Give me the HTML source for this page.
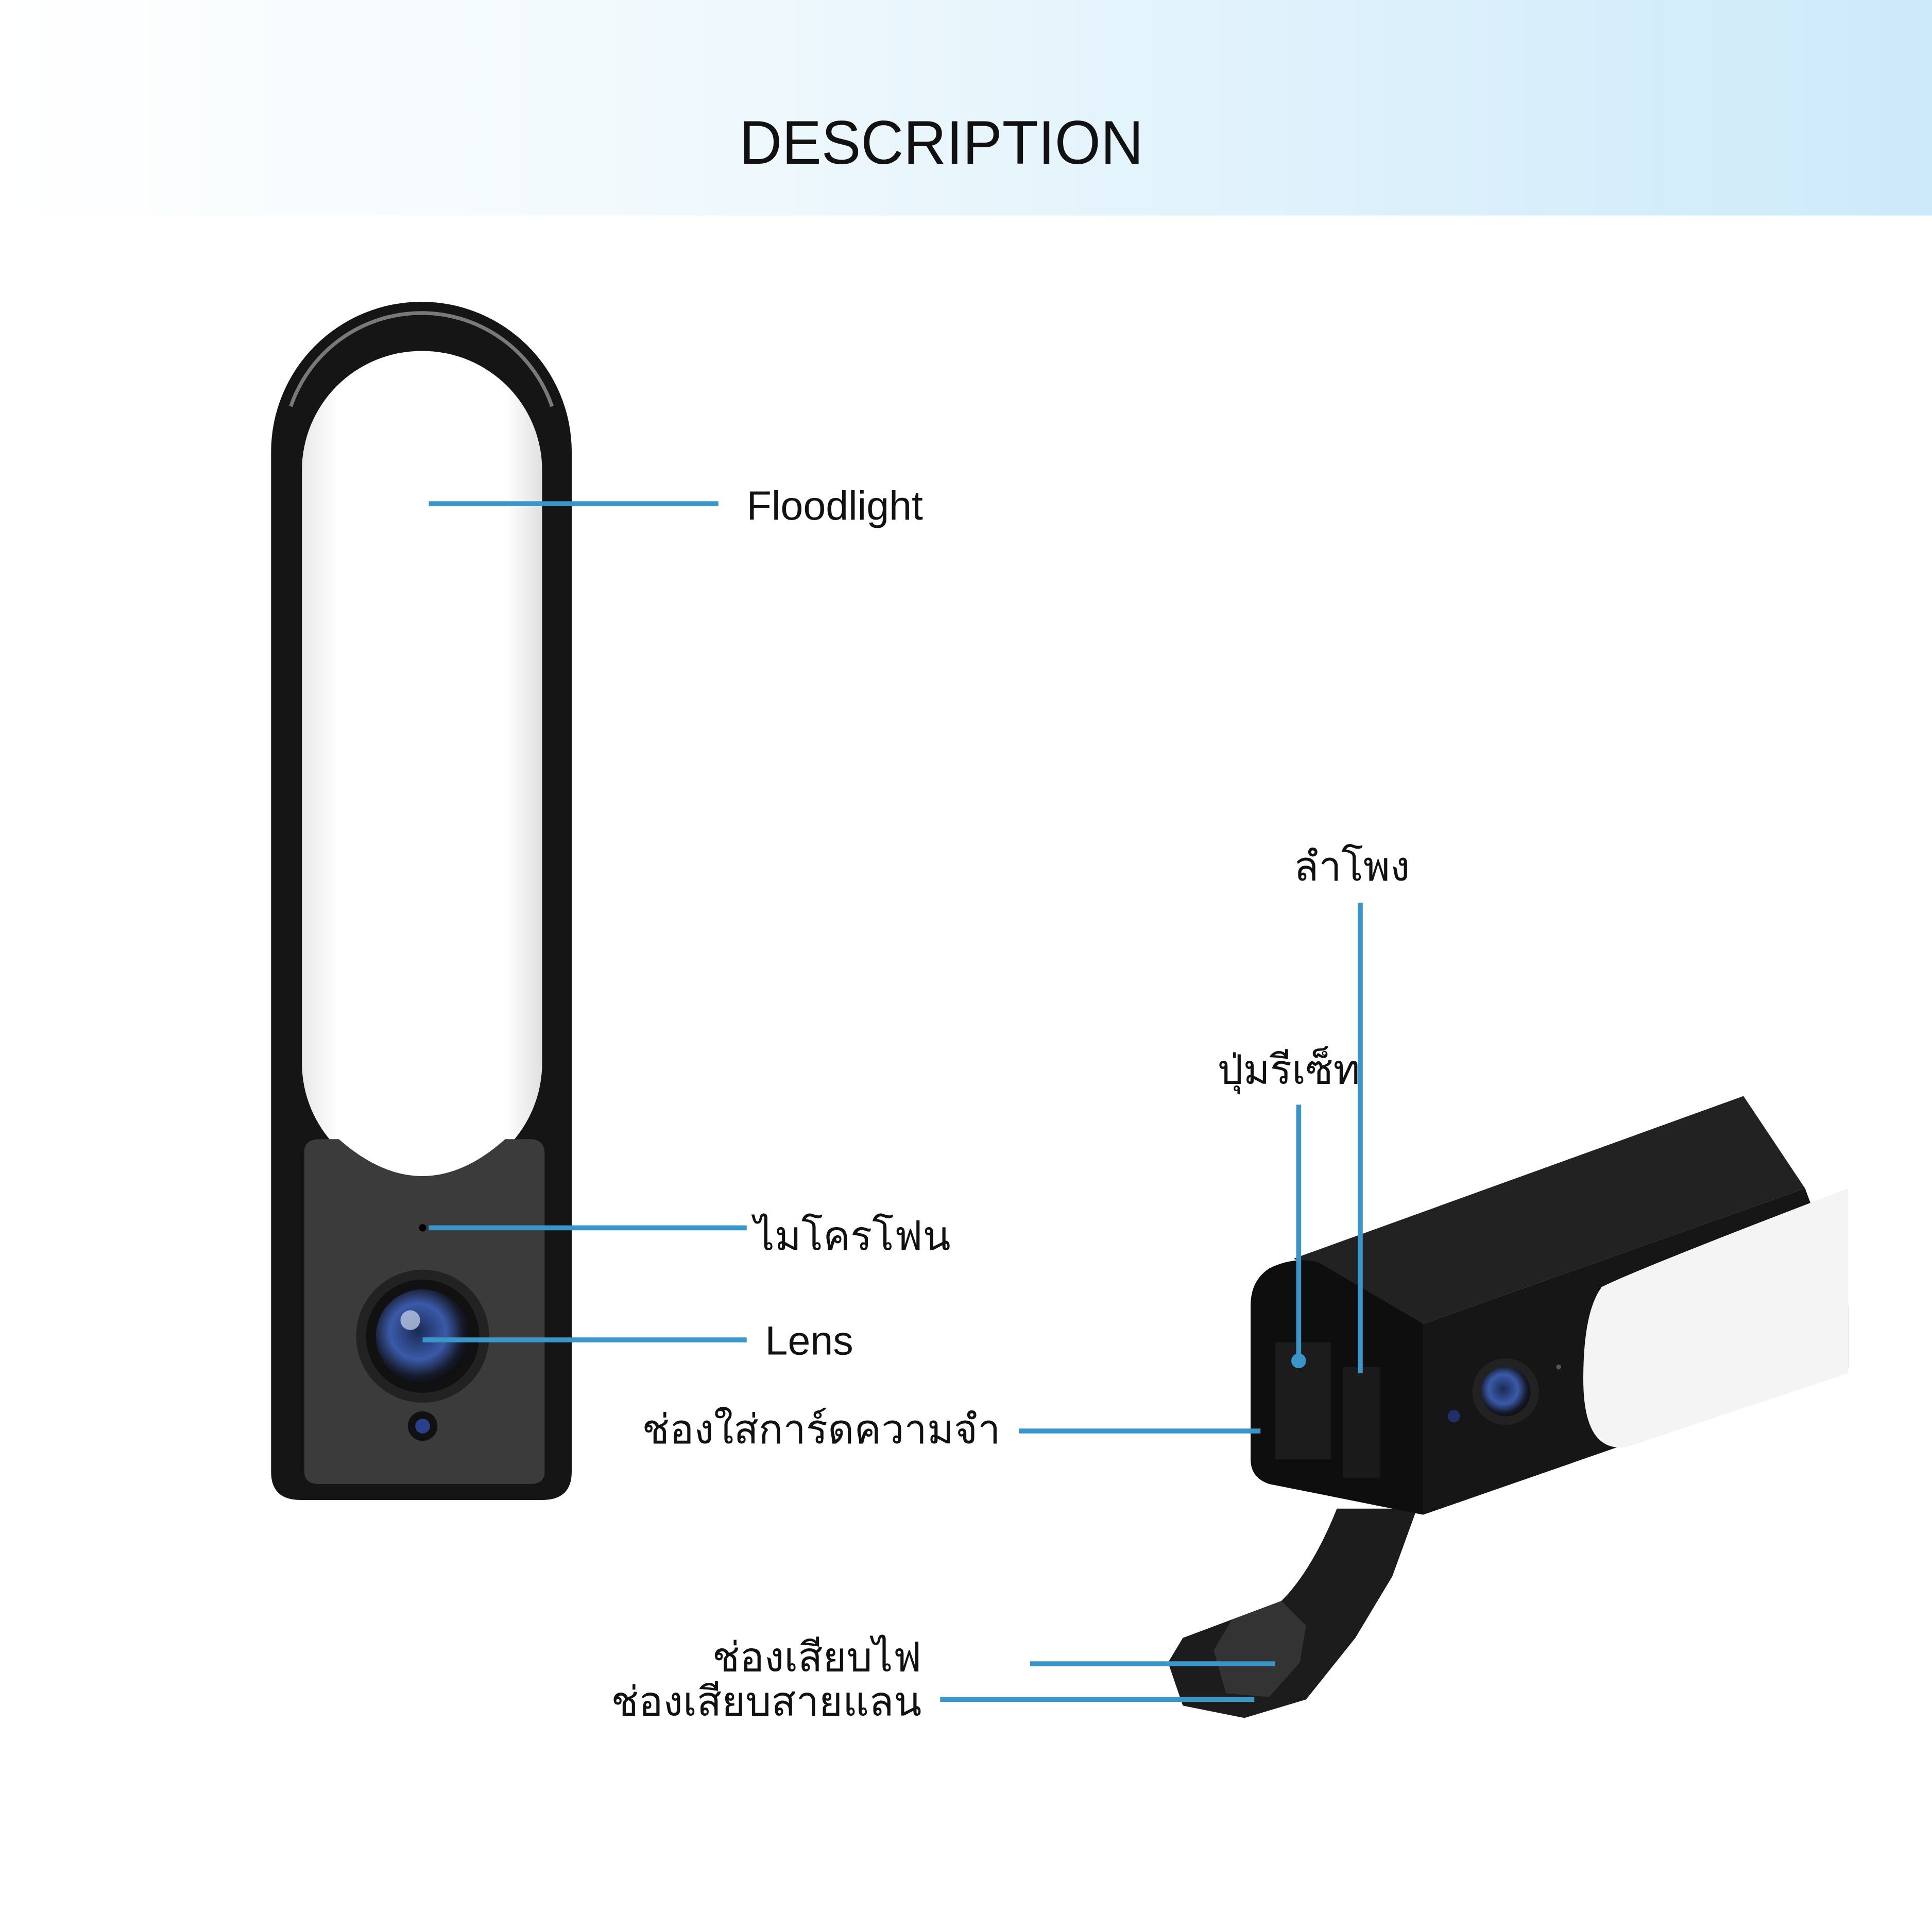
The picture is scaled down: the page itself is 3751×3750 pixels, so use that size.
<!DOCTYPE html>
<html><head><meta charset="utf-8"><style>
html,body{margin:0;padding:0;background:#fff;}
svg{display:block;}
text{font-family:"Liberation Sans","DejaVu Sans","Noto Sans CJK SC",sans-serif;fill:#111;}
</style></head><body>
<svg width="3751" height="3750" viewBox="0 0 1568 1568" preserveAspectRatio="none" xmlns="http://www.w3.org/2000/svg">
<defs>
<linearGradient id="hdr" x1="0" x2="1" y1="0" y2="0">
<stop offset="0" stop-color="#ffffff"/><stop offset="0.4" stop-color="#eef8fd"/><stop offset="1" stop-color="#cdeafa"/>
</linearGradient>
<radialGradient id="lens" cx="0.45" cy="0.45" r="0.6">
<stop offset="0" stop-color="#1b2a55"/><stop offset="0.5" stop-color="#3a5aa8"/><stop offset="0.8" stop-color="#161a2a"/><stop offset="1" stop-color="#0a0a0a"/>
</radialGradient>
<linearGradient id="pill" x1="0" x2="1"><stop offset="0" stop-color="#e8e8e8"/><stop offset="0.15" stop-color="#fff"/><stop offset="0.85" stop-color="#fff"/><stop offset="1" stop-color="#e0e0e0"/></linearGradient>
</defs>
<rect x="0" y="0" width="1568" height="175" fill="url(#hdr)"/>
<text x="600" y="133" font-size="50" textLength="328" lengthAdjust="spacingAndGlyphs">DESCRIPTION</text>

<!-- left camera -->
<path d="M220,367 A122,122 0 0 1 464,367 L464,1195 Q464,1218 440,1218 L244,1218 Q220,1218 220,1195 Z" fill="#151515"/>
<path d="M236,330 A112,112 0 0 1 448,330" fill="none" stroke="#bdbdbd" stroke-width="3" opacity="0.6"/>
<rect x="245" y="285" width="195" height="675" rx="97" fill="url(#pill)"/>
<path d="M247,935 Q247,925 260,925 L275,925 Q343,985 410,925 L430,925 Q442,925 442,937 L442,1195 Q442,1205 430,1205 L259,1205 Q247,1205 247,1195 Z" fill="#3b3b3b"/>
<circle cx="343" cy="997" r="3" fill="#000"/>
<circle cx="343" cy="1085" r="54" fill="#222"/>
<circle cx="343" cy="1085" r="46" fill="#111"/>
<circle cx="343" cy="1085" r="38" fill="url(#lens)"/>
<circle cx="333" cy="1072" r="8" fill="#cfd8f0" opacity="0.7"/>
<circle cx="343" cy="1158" r="12" fill="#111"/>
<circle cx="343" cy="1158" r="6" fill="#2a3f8a"/>

<!-- right camera -->
<path d="M1085,1225 L1150,1225 L1130,1280 L1100,1330 L1060,1380 L1010,1395 L960,1385 L948,1350 L960,1330 L1040,1300 C1060,1280 1075,1250 1085,1225 Z" fill="#1c1c1c"/>
<path d="M1040,1300 L1000,1315 L985,1340 L995,1375 L1030,1378 L1055,1350 L1060,1320 Z" fill="#333"/>
<path d="M1050,1022 L1415,890 L1465,965 L1155,1075 Z" fill="#222"/>
<path d="M1030,1030 Q1050,1020 1070,1025 L1155,1075 L1155,1230 L1030,1205 Q1015,1200 1015,1185 L1015,1060 Q1015,1040 1030,1030 Z" fill="#0e0e0e"/>
<rect x="1035" y="1090" width="45" height="95" fill="#1c1c1c"/>
<rect x="1090" y="1110" width="30" height="90" fill="#1a1a1a"/>
<path d="M1155,1075 L1465,965 L1500,1060 L1500,1110 L1155,1230 Z" fill="#161616"/>
<path d="M1300,1045 Q1330,1030 1500,965 L1500,1115 L1320,1175 Q1285,1180 1285,1120 Q1285,1065 1300,1045 Z" fill="#f4f4f4"/>
<circle cx="1222" cy="1130" r="27" fill="#222"/>
<circle cx="1222" cy="1130" r="20" fill="url(#lens)"/>
<circle cx="1180" cy="1150" r="5" fill="#1f2f6a"/>
<circle cx="1265" cy="1110" r="2" fill="#555"/>

<!-- connectors -->
<g stroke="#3a95c8" stroke-width="4" fill="none">
<line x1="348" y1="409" x2="583" y2="409"/>
<line x1="348" y1="997" x2="606" y2="997"/>
<line x1="343" y1="1088" x2="606" y2="1088"/>
<line x1="827" y1="1162" x2="1023" y2="1162"/>
<line x1="1104" y1="733" x2="1104" y2="1115"/>
<line x1="1054" y1="897" x2="1054" y2="1110"/>
<line x1="836" y1="1351" x2="1035" y2="1351"/>
<line x1="763" y1="1380" x2="1018" y2="1380"/>
</g>
<circle cx="1054" cy="1105" r="6" fill="#3a95c8"/>

<text x="606" y="422" font-size="33">Floodlight</text>
<text x="612" y="1015" font-size="33">ไมโครโฟน</text>
<text x="621" y="1100" font-size="33">Lens</text>
<text x="812" y="1172" font-size="33" text-anchor="end">ช่องใส่การ์ดความจำ</text>
<text x="1050" y="715" font-size="33">ลำโพง</text>
<text x="988" y="880" font-size="33">ปุ่มรีเซ็ท</text>
<text x="748" y="1357" font-size="33" text-anchor="end">ช่องเสียบไฟ</text>
<text x="748" y="1393" font-size="33" text-anchor="end">ช่องเสียบสายแลน</text>
</svg>
</body></html>
